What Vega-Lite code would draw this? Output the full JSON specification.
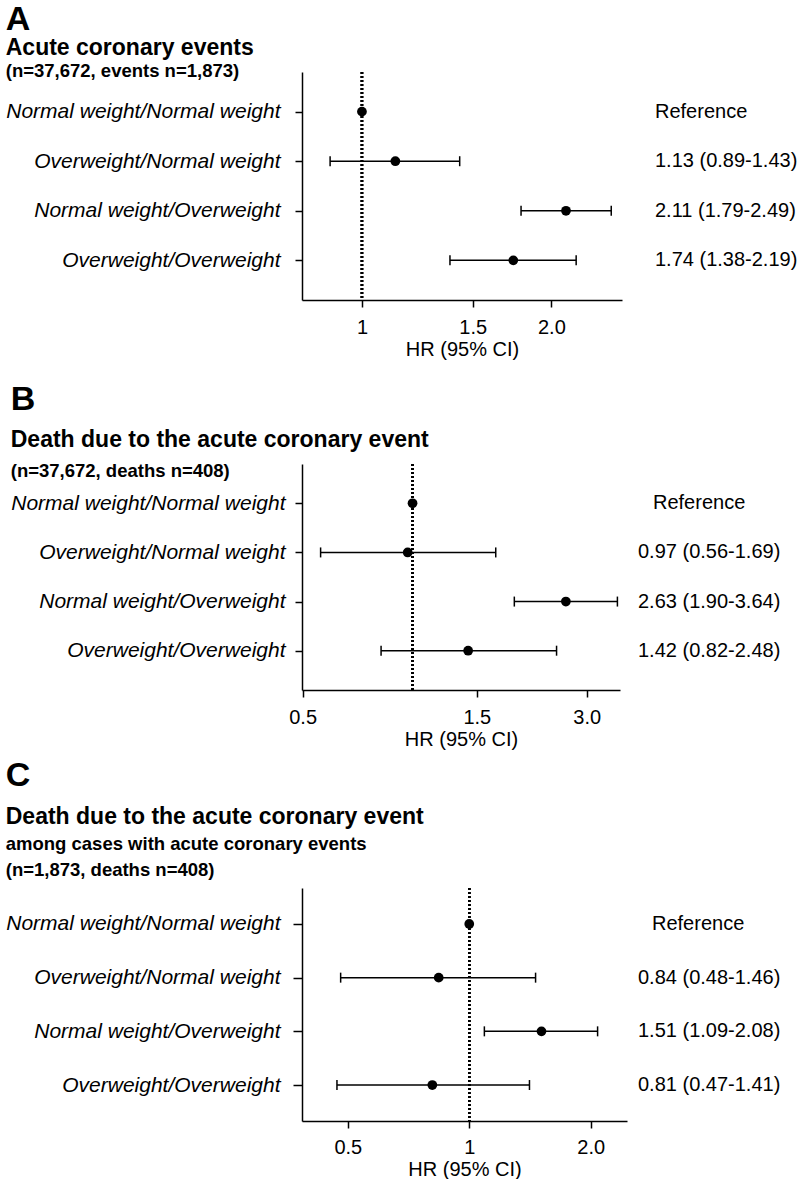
{
  "$schema": "https://vega.github.io/schema/vega-lite/v6.json",
  "background": "white",
  "padding": {"top": 3, "left": 5, "right": 0, "bottom": 0},
  "datasets": {
    "A": [
      {"group": "Normal weight/Normal weight", "hr": 1, "lo": null, "hi": null, "label": "Reference"},
      {"group": "Overweight/Normal weight", "hr": 1.13, "lo": 0.89, "hi": 1.43, "label": "1.13 (0.89-1.43)"},
      {"group": "Normal weight/Overweight", "hr": 2.11, "lo": 1.79, "hi": 2.49, "label": "2.11 (1.79-2.49)"},
      {"group": "Overweight/Overweight", "hr": 1.74, "lo": 1.38, "hi": 2.19, "label": "1.74 (1.38-2.19)"}
    ],
    "B": [
      {"group": "Normal weight/Normal weight", "hr": 1, "lo": null, "hi": null, "label": "Reference"},
      {"group": "Overweight/Normal weight", "hr": 0.97, "lo": 0.56, "hi": 1.69, "label": "0.97 (0.56-1.69)"},
      {"group": "Normal weight/Overweight", "hr": 2.63, "lo": 1.90, "hi": 3.64, "label": "2.63 (1.90-3.64)"},
      {"group": "Overweight/Overweight", "hr": 1.42, "lo": 0.82, "hi": 2.48, "label": "1.42 (0.82-2.48)"}
    ],
    "C": [
      {"group": "Normal weight/Normal weight", "hr": 1, "lo": null, "hi": null, "label": "Reference"},
      {"group": "Overweight/Normal weight", "hr": 0.84, "lo": 0.48, "hi": 1.46, "label": "0.84 (0.48-1.46)"},
      {"group": "Normal weight/Overweight", "hr": 1.51, "lo": 1.09, "hi": 2.08, "label": "1.51 (1.09-2.08)"},
      {"group": "Overweight/Overweight", "hr": 0.81, "lo": 0.47, "hi": 1.41, "label": "0.81 (0.47-1.41)"}
    ]
  },
  "spacing": 24,
  "vconcat": [
    {
      "title": {"text": "A", "fontSize": 34, "fontWeight": "bold", "anchor": "start", "offset": 0},
      "spacing": 33,
      "hconcat": [
        {
          "title": {"text": "Acute coronary events", "subtitle": "(n=37,672, events n=1,873)", "anchor": "start", "fontSize": 23, "fontWeight": "bold", "subtitleFontSize": 18.5, "subtitleFontWeight": "bold", "subtitleColor": "black", "subtitlePadding": 2, "offset": -10},
          "width": 320, "height": 228,
          "data": {"name": "A"},
          "encoding": {
            "y": {"field": "group", "type": "nominal", "sort": ["Normal weight/Normal weight", "Overweight/Normal weight", "Normal weight/Overweight", "Overweight/Overweight"], "scale": {"type": "point", "padding": 0.8},
                  "axis": {"title": null, "labelFontStyle": "italic", "labelFontSize": 21, "labelPadding": 15, "tickSize": 7, "labelLimit": 400}}
          },
          "layer": [
            {"mark": {"type": "rule", "strokeDash": [2, 2], "strokeWidth": 2.5, "color": "black"},
             "encoding": {"x": {"datum": 1, "type": "quantitative"}, "y": null}},
            {"transform": [{"filter": "datum.lo != null"}],
             "mark": {"type": "rule", "strokeWidth": 1.5, "color": "black"},
             "encoding": {"x": {"field": "lo", "type": "quantitative"}, "x2": {"field": "hi"}}},
            {"transform": [{"filter": "datum.lo != null"}],
             "mark": {"type": "tick", "thickness": 1.5, "size": 10, "color": "black", "opacity": 1},
             "encoding": {"x": {"field": "lo", "type": "quantitative"}}},
            {"transform": [{"filter": "datum.lo != null"}],
             "mark": {"type": "tick", "thickness": 1.5, "size": 10, "color": "black", "opacity": 1},
             "encoding": {"x": {"field": "hi", "type": "quantitative"}}},
            {"mark": {"type": "circle", "size": 95, "color": "black", "opacity": 1},
             "encoding": {"x": {"field": "hr", "type": "quantitative", "scale": {"type": "log", "domain": [0.803, 2.59], "nice": false},
                                "axis": {"title": "HR (95% CI)", "values": [1, 1.5, 2], "labelExpr": "datum.value == 1 ? '1' : format(datum.value, '.1f')", "tickSize": 7, "labelPadding": 10, "titlePadding": 2, "labelFlush": false}}}}
          ]
        },
        {
          "width": 140, "height": 228,
          "data": {"name": "A"},
          "mark": {"type": "text", "align": "left", "baseline": "middle", "fontSize": 20, "color": "black"},
          "encoding": {
            "y": {"field": "group", "type": "nominal", "sort": ["Normal weight/Normal weight", "Overweight/Normal weight", "Normal weight/Overweight", "Overweight/Overweight"], "scale": {"type": "point", "padding": 0.8}, "axis": null},
            "x": {"datum": 0, "type": "quantitative", "scale": {"domain": [0, 1]}, "axis": null},
            "text": {"field": "label"}
          }
        }
      ]
    },
    {
      "spacing": 10,
      "vconcat": [
        {
          "title": {"text": "B", "fontSize": 34, "fontWeight": "bold", "anchor": "start", "offset": 12},
          "spacing": 18,
          "hconcat": [
            {
              "title": {"text": "Death due to the acute coronary event", "subtitle": "(n=37,672, deaths n=408)", "anchor": "start", "fontSize": 23, "fontWeight": "bold", "subtitleFontSize": 18.5, "subtitleFontWeight": "bold", "subtitleColor": "black", "subtitlePadding": 10, "offset": -18},
              "width": 318, "height": 226,
              "data": {"name": "B"},
              "encoding": {
                "y": {"field": "group", "type": "nominal", "sort": ["Normal weight/Normal weight", "Overweight/Normal weight", "Normal weight/Overweight", "Overweight/Overweight"], "scale": {"type": "point", "padding": 0.8},
                      "axis": {"title": null, "labelFontStyle": "italic", "labelFontSize": 21, "labelPadding": 10, "tickSize": 7, "labelLimit": 400}}
              },
              "layer": [
                {"mark": {"type": "rule", "strokeDash": [2, 2], "strokeWidth": 2.5, "color": "black"},
                 "encoding": {"x": {"datum": 1, "type": "quantitative"}, "y": null}},
                {"transform": [{"filter": "datum.lo != null"}],
                 "mark": {"type": "rule", "strokeWidth": 1.5, "color": "black"},
                 "encoding": {"x": {"field": "lo", "type": "quantitative"}, "x2": {"field": "hi"}}},
                {"transform": [{"filter": "datum.lo != null"}],
                 "mark": {"type": "tick", "thickness": 1.5, "size": 10, "color": "black", "opacity": 1},
                 "encoding": {"x": {"field": "lo", "type": "quantitative"}}},
                {"transform": [{"filter": "datum.lo != null"}],
                 "mark": {"type": "tick", "thickness": 1.5, "size": 10, "color": "black", "opacity": 1},
                 "encoding": {"x": {"field": "hi", "type": "quantitative"}}},
                {"mark": {"type": "circle", "size": 95, "color": "black", "opacity": 1},
                 "encoding": {"x": {"field": "hr", "type": "quantitative", "scale": {"type": "log", "domain": [0.498, 3.70], "nice": false},
                                    "axis": {"title": "HR (95% CI)", "values": [0.5, 1.5, 3], "labelExpr": "datum.value == 1 ? '1' : format(datum.value, '.1f')", "tickSize": 7, "labelPadding": 10, "titlePadding": 2, "labelFlush": false}}}}
              ]
            },
            {
              "width": 150, "height": 226,
              "data": {"name": "B"},
              "encoding": {
                "y": {"field": "group", "type": "nominal", "sort": ["Normal weight/Normal weight", "Overweight/Normal weight", "Normal weight/Overweight", "Overweight/Overweight"], "scale": {"type": "point", "padding": 0.8}, "axis": null},
                "x": {"datum": 0, "type": "quantitative", "scale": {"domain": [0, 1]}, "axis": null},
                "text": {"field": "label"}
              },
              "layer": [
                {"transform": [{"filter": "datum.label == 'Reference'"}],
                 "mark": {"type": "text", "align": "left", "baseline": "middle", "fontSize": 20, "color": "black", "dx": 15}},
                {"transform": [{"filter": "datum.label != 'Reference'"}],
                 "mark": {"type": "text", "align": "left", "baseline": "middle", "fontSize": 20, "color": "black"}}
              ]
            }
          ]
        },
        {
          "title": {"text": "C", "fontSize": 34, "fontWeight": "bold", "anchor": "start", "offset": 13},
          "spacing": 11,
          "hconcat": [
            {
              "title": {"text": "Death due to the acute coronary event", "subtitle": ["among cases with acute coronary events", "(n=1,873, deaths n=408)"], "anchor": "start", "fontSize": 23, "fontWeight": "bold", "subtitleFontSize": 18.5, "subtitleFontWeight": "bold", "subtitleColor": "black", "subtitlePadding": 6, "subtitleLineHeight": 26, "offset": 7},
              "width": 325, "height": 233,
              "data": {"name": "C"},
              "encoding": {
                "y": {"field": "group", "type": "nominal", "sort": ["Normal weight/Normal weight", "Overweight/Normal weight", "Normal weight/Overweight", "Overweight/Overweight"], "scale": {"type": "point", "padding": 0.67},
                      "axis": {"title": null, "labelFontStyle": "italic", "labelFontSize": 21, "labelPadding": 13, "tickSize": 9, "labelLimit": 400}}
              },
              "layer": [
                {"mark": {"type": "rule", "strokeDash": [2, 2], "strokeWidth": 2.5, "color": "black"},
                 "encoding": {"x": {"datum": 1, "type": "quantitative"}, "y": null}},
                {"transform": [{"filter": "datum.lo != null"}],
                 "mark": {"type": "rule", "strokeWidth": 1.5, "color": "black"},
                 "encoding": {"x": {"field": "lo", "type": "quantitative"}, "x2": {"field": "hi"}}},
                {"transform": [{"filter": "datum.lo != null"}],
                 "mark": {"type": "tick", "thickness": 1.5, "size": 10, "color": "black", "opacity": 1},
                 "encoding": {"x": {"field": "lo", "type": "quantitative"}}},
                {"transform": [{"filter": "datum.lo != null"}],
                 "mark": {"type": "tick", "thickness": 1.5, "size": 10, "color": "black", "opacity": 1},
                 "encoding": {"x": {"field": "hi", "type": "quantitative"}}},
                {"mark": {"type": "circle", "size": 95, "color": "black", "opacity": 1},
                 "encoding": {"x": {"field": "hr", "type": "quantitative", "scale": {"type": "log", "domain": [0.385, 2.46], "nice": false},
                                    "axis": {"title": "HR (95% CI)", "values": [0.5, 1, 2], "labelExpr": "datum.value == 1 ? '1' : format(datum.value, '.1f')", "tickSize": 7, "labelPadding": 9, "titlePadding": 2, "labelFlush": false}}}}
              ]
            },
            {
              "width": 150, "height": 233,
              "data": {"name": "C"},
              "encoding": {
                "y": {"field": "group", "type": "nominal", "sort": ["Normal weight/Normal weight", "Overweight/Normal weight", "Normal weight/Overweight", "Overweight/Overweight"], "scale": {"type": "point", "padding": 0.67}, "axis": null},
                "x": {"datum": 0, "type": "quantitative", "scale": {"domain": [0, 1]}, "axis": null},
                "text": {"field": "label"}
              },
              "layer": [
                {"transform": [{"filter": "datum.label == 'Reference'"}],
                 "mark": {"type": "text", "align": "left", "baseline": "middle", "fontSize": 20, "color": "black", "dx": 14}},
                {"transform": [{"filter": "datum.label != 'Reference'"}],
                 "mark": {"type": "text", "align": "left", "baseline": "middle", "fontSize": 20, "color": "black"}}
              ]
            }
          ]
        }
      ]
    }
  ],
  "config": {
    "font": "Liberation Sans",
    "view": {"stroke": null},
    "axis": {"domainColor": "black", "tickColor": "black", "labelColor": "black", "titleColor": "black", "grid": false, "domainWidth": 1.5, "tickWidth": 1.5, "labelFontSize": 20, "titleFontSize": 20, "titleFontWeight": "normal", "labelFont": "Liberation Sans", "titleFont": "Liberation Sans"},
    "title": {"color": "black", "font": "Liberation Sans", "subtitleFont": "Liberation Sans"}
  }
}
